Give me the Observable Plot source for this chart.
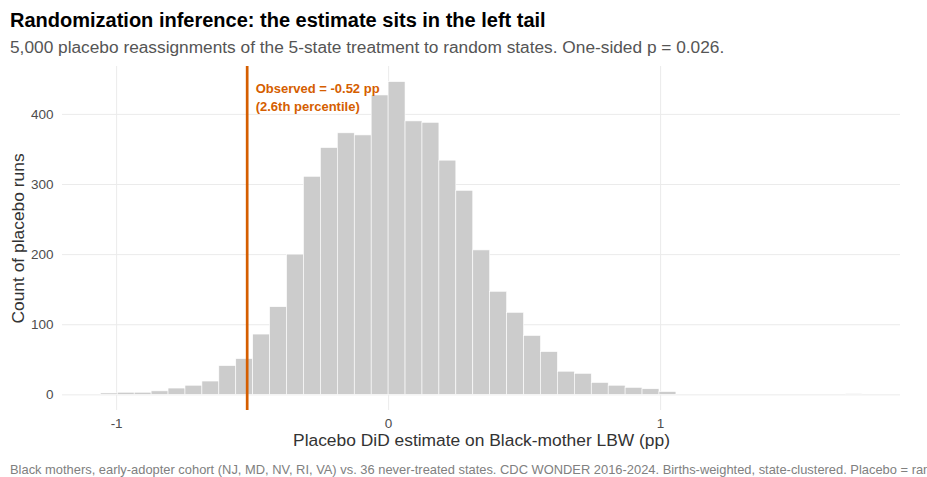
<!DOCTYPE html>
<html>
<head>
<meta charset="utf-8">
<script src="https://cdn.jsdelivr.net/npm/d3@7"></script>
<script src="https://cdn.jsdelivr.net/npm/@observablehq/plot@0.6"></script>
<style>
  html, body { margin: 0; padding: 0; background: #fff; width: 927px; height: 477px; overflow: hidden; position: relative; font-family: "Liberation Sans", Arial, Helvetica, sans-serif; }
  #title { position: absolute; left: 10px; top: 8px; font-size: 20px; line-height: 24px; font-weight: bold; color: #000; white-space: nowrap; }
  #subtitle { position: absolute; left: 10px; top: 36px; font-size: 17.3px; line-height: 22px; color: #555; white-space: nowrap; }
  #chart { position: absolute; left: 0; top: 60px; }
  #caption { position: absolute; left: 10px; top: 462px; font-size: 12.9px; line-height: 16px; color: #808080; white-space: nowrap; }
</style>
</head>
<body>
<div id="title">Randomization inference: the estimate sits in the left tail</div>
<div id="subtitle">5,000 placebo reassignments of the 5-state treatment to random states. One-sided p = 0.026.</div>
<div id="chart"></div>
<div id="caption">Black mothers, early-adopter cohort (NJ, MD, NV, RI, VA) vs. 36 never-treated states. CDC WONDER 2016-2024. Births-weighted, state-clustered. Placebo = random states.</div>
<script>
// Histogram bins: width and index of the first bin (bin k covers [k*w, (k+1)*w])
const binWidth = 0.06224;
const firstBinIndex = -17;
// Counts of placebo runs per bin
const counts = [2, 3, 3, 5, 9, 13, 19, 41, 51, 86,
                125, 200, 311, 352, 373, 370, 427, 446, 390, 388,
                334, 291, 206, 147, 117, 84, 61, 33, 30, 17,
                13, 10, 8, 4, 0, 0, 0, 0, 0, 0,
                0, 0, 0, 0, 1];
const observed = [-0.52];
const annotation = ["Observed = -0.52 pp\n(2.6th percentile)"];
const xTicks = [-1, 0, 1];
const yTicks = [0, 100, 200, 300, 400];
const xDomain = [-1.199, 1.882];
const yDomain = [-22.3, 468.3];

const bins = counts.map((c, i) => ({
  x1: (firstBinIndex + i) * binWidth,
  x2: (firstBinIndex + i + 1) * binWidth,
  count: c
}));

const orange = "#D55E00";

const chart = Plot.plot({
  width: 927,
  height: 395,
  marginLeft: 62,
  marginRight: 27,
  marginTop: 6,
  marginBottom: 45,
  style: { fontFamily: "'Liberation Sans', Arial, Helvetica, sans-serif", fontSize: "13.5px", color: "#4d4d4d", background: "white", overflow: "visible" },
  x: { domain: xDomain },
  y: { domain: yDomain },
  marks: [
    Plot.gridY(yTicks, { stroke: "#ebebeb", strokeOpacity: 1, strokeWidth: 1 }),
    Plot.gridX(xTicks, { stroke: "#ebebeb", strokeOpacity: 1, strokeWidth: 1 }),
    Plot.rectY(bins, { x1: "x1", x2: "x2", y1: 0, y2: "count", fill: "#cccccc", stroke: "white", strokeWidth: 0.6 }),
    Plot.ruleX(observed, { stroke: orange, strokeWidth: 2.7 }),
    Plot.text(annotation, { x: observed[0], frameAnchor: "top", dy: 13.5, dx: 8.5, textAnchor: "start", lineAnchor: "top", lineHeight: 1.415, fontSize: 13, fontWeight: "bold", fill: orange }),
    Plot.axisX(xTicks, { tickSize: 0, tickPadding: 8, tickFormat: d => String(d), fontSize: 13.5, label: null }),
    Plot.axisY(yTicks, { tickSize: 0, tickPadding: 9, tickFormat: d => String(d), fontSize: 13.5, label: null }),
    Plot.text(["Placebo DiD estimate on Black-mother LBW (pp)"], { frameAnchor: "bottom", dy: 30, textAnchor: "middle", lineAnchor: "middle", fontSize: 17.4, fill: "#333" }),
    Plot.text(["Count of placebo runs"], { frameAnchor: "left", dx: -44, rotate: -90, textAnchor: "middle", lineAnchor: "middle", fontSize: 17.4, fill: "#333" })
  ]
});
document.getElementById("chart").appendChild(chart);
</script>
</body>
</html>
